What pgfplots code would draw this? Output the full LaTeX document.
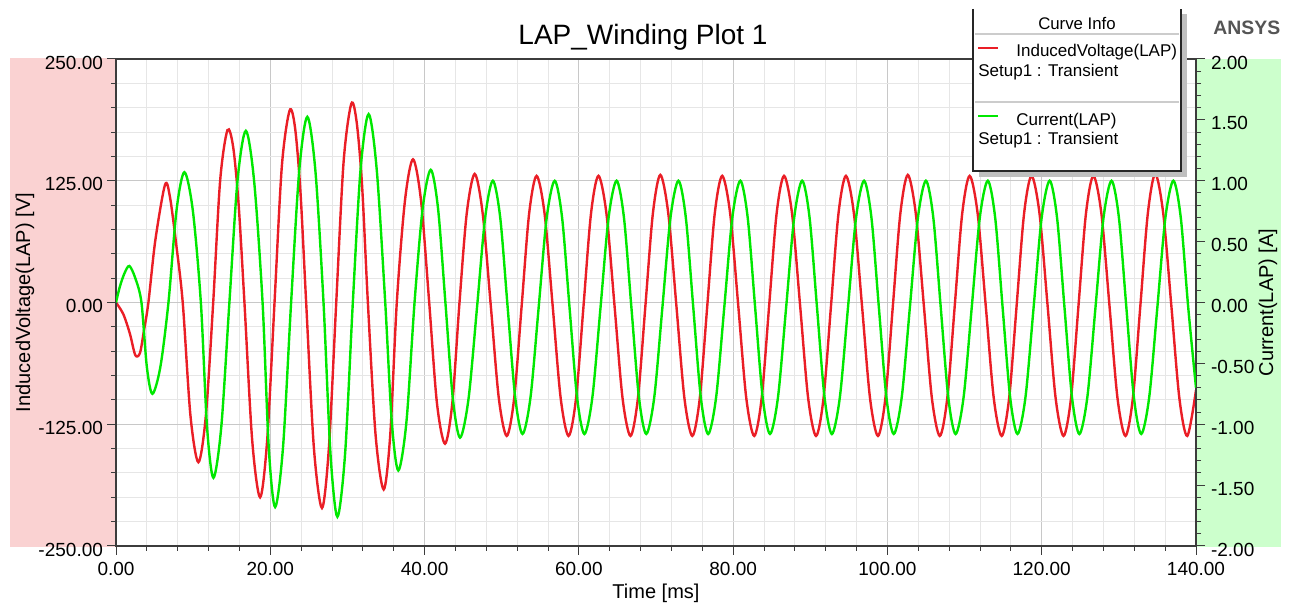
\documentclass[border=0pt]{standalone}
\usepackage{fontspec}
\setmainfont{Liberation Sans}
\usepackage{pgfplots}
\pgfplotsset{compat=1.18}

\definecolor{vred}{RGB}{234,30,38}
\definecolor{igreen}{RGB}{0,232,0}
\definecolor{bandpink}{RGB}{250,210,210}
\definecolor{bandgreen}{RGB}{204,255,204}
\definecolor{gridmaj}{RGB}{200,200,200}
\definecolor{gridmin}{RGB}{230,230,230}
\definecolor{axisgray}{RGB}{60,60,60}

\newcommand{\tickfont}{\fontsize{9.5}{11}\selectfont}
\newcommand{\legfont}{\fontsize{8.5}{10}\selectfont}

\begin{document}
\begin{tikzpicture}
\useasboundingbox (0,0) rectangle (645.5pt,304.5pt);

% coloured bands behind the two value axes (pixel coordinates, origin top left)
\begin{scope}[x=0.5pt,y=-0.5pt,shift={(0,304.5pt)}]
  \fill[bandpink] (10,58) rectangle (116,547);
  \fill[bandgreen] (1196,59) rectangle (1281,547);
\end{scope}

\pgfplotsset{
  lapaxis/.style={
    at={(58pt,31.5pt)}, anchor=south west,
    scale only axis, width=540pt, height=243.5pt,
    xmin=0, xmax=140,
    tick align=outside,
    major tick length=4.5pt, minor tick length=2.5pt,
    axis line style={axisgray, line width=0.6pt},
    tick style={axisgray, line width=0.5pt},
    ticklabel style={font=\tickfont, text=black},
    label style={font=\tickfont},
  }
}

% induced voltage, left axis
\begin{axis}[
  lapaxis,
  ymin=-250, ymax=250,
  xtick={0,20,...,140},
  xticklabels={0.00,20.00,40.00,60.00,80.00,100.00,120.00,140.00},
  minor x tick num=4,
  ytick={-250,-125,0,125,250},
  yticklabels={-250.00,-125.00,0.00,125.00,250.00},
  minor y tick num=4,
  xtick pos=bottom, ytick pos=left,
  grid=both,
  major grid style={gridmaj, line width=0.6pt},
  minor grid style={gridmin, line width=0.5pt},
  yticklabel style={anchor=east, yshift=-1.75pt, xshift=1.5pt},
  xlabel={Time [ms]},
  ylabel={InducedVoltage(LAP) [V]},
  every axis x label/.style={at={(rel axis cs:0.5,0)}, anchor=base, yshift=-26.5pt},
  every axis y label/.style={at={(rel axis cs:0,0.5)}, rotate=90, anchor=center, yshift=45.5pt},
]
\addplot[vred, line width=1.2pt, smooth] coordinates {
  (0,0) (0.95,-12) (1.8,-32) (2.5,-54) (3.1,-52) (3.6,-30) (4.2,0) (5.1,64) (6.36,121) (7.0,108) (7.8,60) (8.65,0)
  (9.65,-116) (10.68,-164) (11.65,-116) (12.6,0) (13.5,125) (14.45,177) (15.2,159) (15.9,100) (16.65,0)
  (17.65,-141) (18.68,-200) (19.6,-141) (20.55,0) (21.5,140) (22.5,197) (23.2,180) (23.9,115) (24.65,0)
  (25.65,-149) (26.7,-211) (27.6,-149) (28.55,0) (29.5,144) (30.5,204) (31.2,185) (31.9,120) (32.65,0)
  (33.65,-136) (34.7,-192) (35.55,-136) (36.4,0) (37.45,104) (38.5,147) (39.55,104) (40.6,0)
  (41.6,-103) (42.65,-145) (43.6,-103) (44.5,-3) (45.46,91)
  (46.50,132) (47.54,91) (48.58,-3) (49.62,-98) (50.65,-137) (51.62,-98) (52.59,-3) (53.55,91)
  (54.52,130) (55.56,91) (56.60,-3) (57.64,-98) (58.67,-137) (59.64,-98) (60.61,-3) (61.57,91)
  (62.54,130) (63.58,91) (64.62,-3) (65.66,-98) (66.69,-137) (67.66,-98) (68.63,-3) (69.59,91)
  (70.56,131) (71.60,91) (72.64,-3) (73.68,-98) (74.71,-137) (75.68,-98) (76.65,-3) (77.61,91)
  (78.58,130) (79.62,91) (80.66,-3) (81.70,-98) (82.73,-137) (83.70,-98) (84.67,-3) (85.63,91)
  (86.60,130) (87.64,91) (88.68,-3) (89.72,-98) (90.75,-137) (91.72,-98) (92.69,-3) (93.65,91)
  (94.62,130) (95.66,91) (96.70,-3) (97.74,-98) (98.77,-137) (99.74,-98) (100.71,-3) (101.67,91)
  (102.64,131) (103.68,91) (104.72,-3) (105.76,-98) (106.79,-137) (107.76,-98) (108.73,-3) (109.69,91)
  (110.66,130) (111.70,91) (112.74,-3) (113.78,-98) (114.81,-137) (115.78,-98) (116.75,-3) (117.71,91)
  (118.68,130) (119.72,91) (120.76,-3) (121.80,-98) (122.83,-137) (123.80,-98) (124.77,-3) (125.73,91)
  (126.70,130) (127.74,91) (128.78,-3) (129.82,-98) (130.85,-137) (131.82,-98) (132.79,-3) (133.75,91)
  (134.72,132) (135.76,91) (136.80,-3) (137.84,-98) (138.87,-137) (140,-90)
};
\end{axis}

% current, right axis
\begin{axis}[
  lapaxis,
  ymin=-2, ymax=2,
  hide x axis,
  ytick={-2,-1.5,-1,-0.5,0,0.5,1,1.5,2},
  yticklabels={-2.00,-1.50,-1.00,-0.50,0.00,0.50,1.00,1.50,2.00},
  minor y tick num=4,
  ytick pos=right, yticklabel pos=right,
  yticklabel style={anchor=west, yshift=-1.75pt, xshift=-0.5pt},
  ylabel={Current(LAP) [A]},
  every axis y label/.style={at={(rel axis cs:1,0.5)}, rotate=90, anchor=center, yshift=-36pt},
]
\addplot[igreen, line width=1.2pt, smooth] coordinates {
  (0,0) (0.5,0.13) (1.1,0.24) (1.73,0.30) (2.5,0.2) (3.3,0) (4.0,-0.53) (4.72,-0.75) (5.75,-0.53) (6.8,0)
  (7.85,0.76) (8.87,1.07) (9.95,0.76) (11.0,0) (11.8,-1.02) (12.63,-1.44) (13.65,-1.02) (14.7,0)
  (15.75,1.0) (16.83,1.41) (17.9,1.0) (19.0,0) (19.8,-1.19) (20.63,-1.68) (21.65,-1.19) (22.7,0)
  (23.75,1.08) (24.8,1.525) (25.85,1.08) (26.9,0) (27.8,-1.24) (28.7,-1.76) (29.7,-1.24) (30.7,0)
  (31.7,1.09) (32.75,1.547) (33.8,1.09) (34.9,0) (35.75,-0.98) (36.6,-1.38) (37.65,-0.98) (38.7,0)
  (39.75,0.77) (40.8,1.09) (41.75,0.77) (42.7,0) (43.65,-0.78) (44.6,-1.11) (45.7,-0.79) (46.8,-0.04) (47.85,0.695)
  (48.85,1.0) (49.81,0.695) (50.77,-0.04) (51.74,-0.775) (52.70,-1.08) (53.74,-0.775) (54.79,-0.04) (55.83,0.695)
  (56.87,1.0) (57.83,0.695) (58.79,-0.04) (59.76,-0.775) (60.72,-1.08) (61.76,-0.775) (62.81,-0.04) (63.85,0.695)
  (64.89,1.0) (65.85,0.695) (66.81,-0.04) (67.78,-0.775) (68.74,-1.08) (69.78,-0.775) (70.83,-0.04) (71.87,0.695)
  (72.91,1.0) (73.87,0.695) (74.83,-0.04) (75.80,-0.775) (76.76,-1.08) (77.80,-0.775) (78.85,-0.04) (79.89,0.695)
  (80.93,1.0) (81.89,0.695) (82.85,-0.04) (83.82,-0.775) (84.78,-1.08) (85.82,-0.775) (86.87,-0.04) (87.91,0.695)
  (88.95,1.0) (89.91,0.695) (90.87,-0.04) (91.84,-0.775) (92.80,-1.08) (93.84,-0.775) (94.89,-0.04) (95.93,0.695)
  (96.97,1.0) (97.93,0.695) (98.89,-0.04) (99.86,-0.775) (100.82,-1.08) (101.86,-0.775) (102.91,-0.04) (103.95,0.695)
  (104.99,1.0) (105.95,0.695) (106.91,-0.04) (107.88,-0.775) (108.84,-1.08) (109.88,-0.775) (110.93,-0.04) (111.97,0.695)
  (113.01,1.0) (113.97,0.695) (114.93,-0.04) (115.90,-0.775) (116.86,-1.08) (117.90,-0.775) (118.95,-0.04) (119.99,0.695)
  (121.03,1.0) (121.99,0.695) (122.95,-0.04) (123.92,-0.775) (124.88,-1.08) (125.92,-0.775) (126.97,-0.04) (128.01,0.695)
  (129.05,1.0) (130.01,0.695) (130.97,-0.04) (131.94,-0.775) (132.90,-1.08) (133.94,-0.775) (134.99,-0.04) (136.03,0.695)
  (137.07,1.0) (138.03,0.695) (138.99,-0.04) (140,-0.7)
};
\end{axis}

% title, logo and the curve info box
\begin{scope}[x=0.5pt,y=-0.5pt,shift={(0,304.5pt)}]
  \node[anchor=base, inner sep=0, font=\fontsize{14}{16}\selectfont] at (643,45) {LAP\_Winding Plot 1};
  \node[anchor=base west, inner sep=0, font=\fontsize{9.7}{11}\selectfont\bfseries, text={rgb,255:red,85;green,85;blue,85}] at (1213,34.5) {ANSYS};

  \fill[black!25] (1181,14) rectangle (1187,177);
  \fill[black!25] (979,171) rectangle (1187,177);
  \fill[white] (973,0) rectangle (1181,171);
  \draw[black!85, line width=0.6pt] (973,9) -- (973,171) -- (1181,171) -- (1181,9);
  \draw[black!20, line width=0.6pt] (975,34) -- (1179,34);
  \draw[black!20, line width=0.6pt] (975,102) -- (1179,102);
  \node[anchor=base, inner sep=0, font=\fontsize{8.4}{10}\selectfont] at (1077,29.5) {Curve Info};
  \fill[vred] (978,46.8) rectangle (998,48.8);
  \node[anchor=base west, inner sep=0, font=\legfont] at (1016,57) {InducedVoltage(LAP)};
  \node[anchor=base west, inner sep=0, font=\legfont] at (978,76.5) {Setup1 : Transient};
  \fill[igreen] (978,115) rectangle (998,117);
  \node[anchor=base west, inner sep=0, font=\legfont] at (1016,126) {Current(LAP)};
  \node[anchor=base west, inner sep=0, font=\legfont] at (978,145) {Setup1 : Transient};
\end{scope}
\end{tikzpicture}
\end{document}
